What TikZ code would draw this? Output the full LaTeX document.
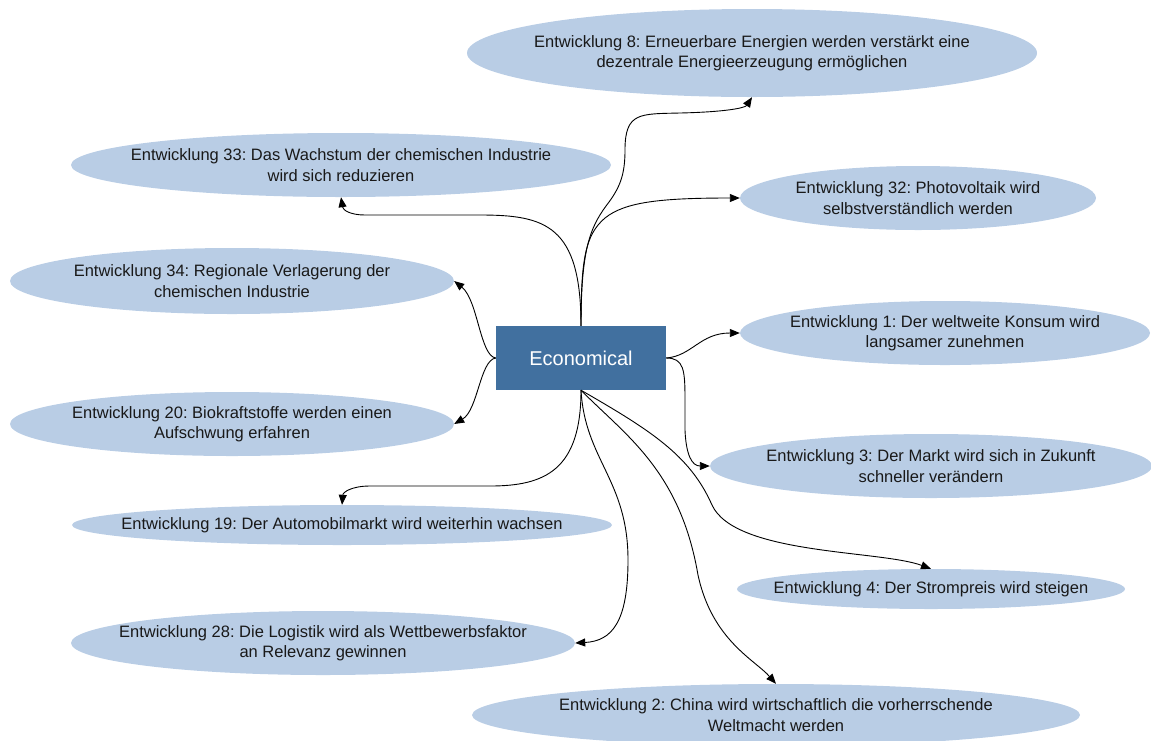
\documentclass[tikz,border=0pt]{standalone}
\usepackage{fontspec}
\setmainfont{Liberation Sans}
\usepackage{xcolor}
\usetikzlibrary{positioning,arrows.meta,shapes.geometric}
\definecolor{boxblue}{HTML}{41709F}
\definecolor{ideablue}{HTML}{B9CDE5}
\frenchspacing

\begin{document}
\begin{tikzpicture}[
        x=1pt, y=-1pt,
        topic/.style={
            fill=boxblue,
            minimum width=170pt,
            minimum height=64pt,
            inner sep=0pt,
            text=white,
            font=\fontsize{20}{24}\selectfont
        },
        idea/.style={
            ellipse,
            fill=ideablue,
            inner sep=0pt
        },
        txt/.style={
            align=center,
            text=black!90,
            font=\fontsize{16.5}{20.5}\selectfont
        },
        link/.style={-{Triangle[length=10pt,width=8pt]}, line width=0.9pt}
    ]
    \useasboundingbox (0,0) rectangle (1151,740);

    \node[topic] (econ) at (581,358) {Economical};

    % upper half
    \node[idea, minimum width=570pt, minimum height=88pt,
        label={[txt]center:{Entwicklung 8: Erneuerbare Energien werden verstärkt eine\\dezentrale Energieerzeugung ermöglichen}}]
        (ent8) at (752,53) {};
    \node[idea, minimum width=540pt, minimum height=64pt,
        label={[txt]center:{Entwicklung 33: Das Wachstum der chemischen Industrie\\wird sich reduzieren}}]
        (ent33) at (341,165) {};
    \node[idea, minimum width=356pt, minimum height=64pt,
        label={[txt]center:{Entwicklung 32: Photovoltaik wird\\selbstverständlich werden}}]
        (ent32) at (918,198) {};
    \node[idea, minimum width=444pt, minimum height=66pt,
        label={[txt]center:{Entwicklung 34: Regionale Verlagerung der\\chemischen Industrie}}]
        (ent34) at (232,281) {};
    \node[idea, minimum width=410pt, minimum height=64pt,
        label={[txt]center:{Entwicklung 1: Der weltweite Konsum wird\\langsamer zunehmen}}]
        (ent1) at (945,333) {};

    % lower half
    \node[idea, minimum width=444pt, minimum height=64pt,
        label={[txt]center:{Entwicklung 20: Biokraftstoffe werden einen\\Aufschwung erfahren}}]
        (ent20) at (232,424) {};
    \node[idea, minimum width=442pt, minimum height=64pt,
        label={[txt]center:{Entwicklung 3: Der Markt wird sich in Zukunft\\schneller verändern}}]
        (ent3) at (931,466) {};
    \node[idea, minimum width=540pt, minimum height=40pt,
        label={[txt]center:{Entwicklung 19: Der Automobilmarkt wird weiterhin wachsen}}]
        (ent19) at (342,525) {};
    \node[idea, minimum width=388pt, minimum height=40pt,
        label={[txt]center:{Entwicklung 4: Der Strompreis wird steigen}}]
        (ent4) at (931,589) {};
    \node[idea, minimum width=504pt, minimum height=64pt,
        label={[txt]center:{Entwicklung 28: Die Logistik wird als Wettbewerbsfaktor\\an Relevanz gewinnen}}]
        (ent28) at (323,643) {};
    \node[idea, minimum width=608pt, minimum height=62pt,
        label={[txt]center:{Entwicklung 2: China wird wirtschaftlich die vorherrschende\\Weltmacht werden}}]
        (ent2) at (776,715) {};

    % connectors
    \draw[link] (econ.north) .. controls (581,250) and (590,228) .. (606,206)
        .. controls (620,188) and (625,175) .. (625,150)
        .. controls (625,112) and (640,114) .. (680,113)
        .. controls (725,112) and (745,108) .. (ent8.south);
    \draw[link] (econ.north) .. controls (581,260) and (585,235) .. (605,218)
        .. controls (625,202) and (660,198) .. (ent32.west);
    \draw[link] (econ.north) .. controls (581,225) and (545,215) .. (480,215)
        -- (365,215) .. controls (350,215) and (343,210) .. (ent33.south);
    \draw[link] (econ.west) .. controls (480,356) and (478,300) .. (ent34.east);
    \draw[link] (econ.west) .. controls (480,360) and (478,410) .. (ent20.east);
    \draw[link] (econ.east) .. controls (692,356) and (700,333) .. (ent1.west);
    \draw[link] (econ.east) .. controls (684,358) and (685,370) .. (685,400)
        -- (685,430) .. controls (686,455) and (692,466) .. (ent3.west);
    \draw[link] (econ.south) .. controls (581,470) and (545,486) .. (490,486)
        -- (370,486) .. controls (352,486) and (343,492) .. (ent19.north);
    \draw[link] (econ.south) .. controls (585,460) and (628,480) .. (628,560)
        .. controls (628,622) and (612,641) .. (ent28.east);
    \draw[link] (econ.south) .. controls (625,435) and (680,470) .. (698,575)
        .. controls (712,640) and (755,660) .. (ent2.north);
    \draw[link] (econ.south) .. controls (650,430) and (690,455) .. (712,505)
        .. controls (735,555) and (880,550) .. (ent4.north);
\end{tikzpicture}
\end{document}
